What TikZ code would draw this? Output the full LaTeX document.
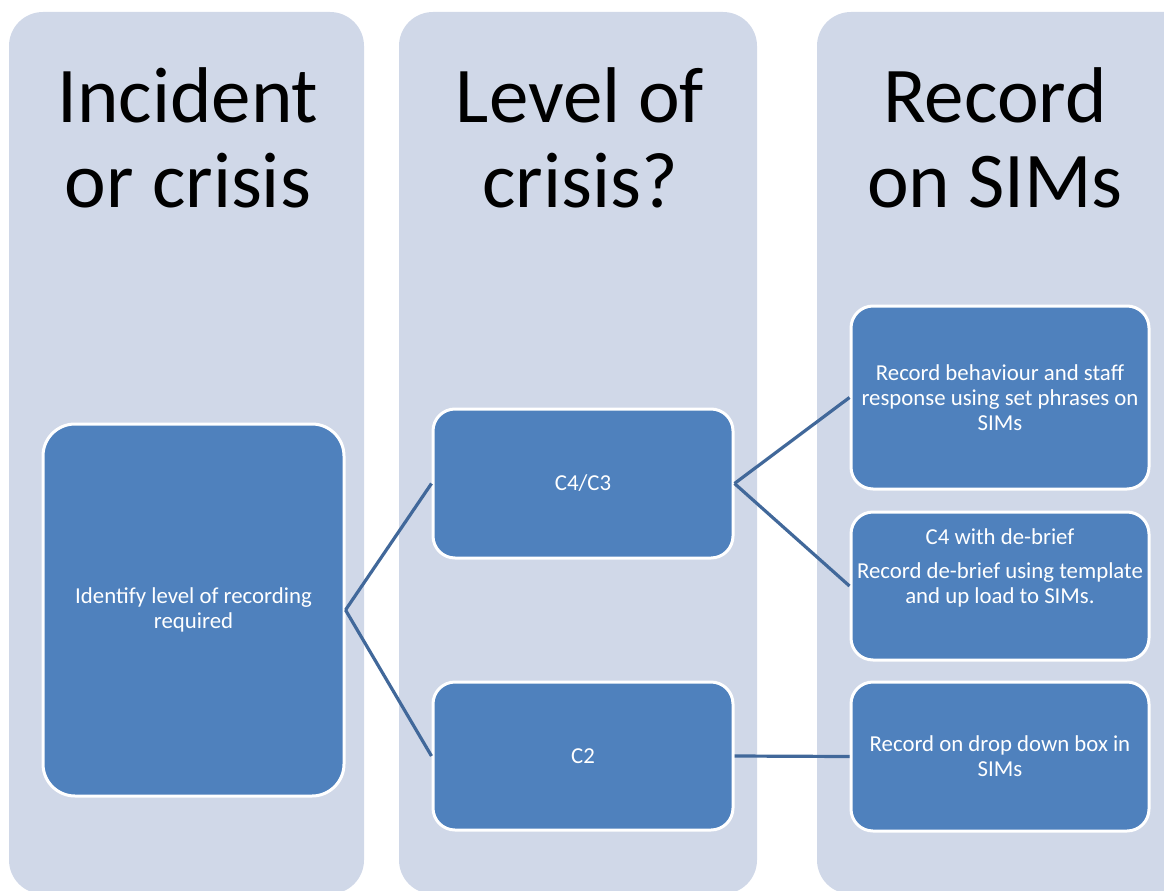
\documentclass[tikz,border=0pt]{standalone}
\usepackage{fontspec}
\setmainfont{Carlito}
\definecolor{colbg}{HTML}{D0D8E8}
\definecolor{boxfill}{HTML}{4F81BD}
\definecolor{linec}{HTML}{41689A}
\begin{document}
\begin{tikzpicture}[x=1pt,y=-1pt,
  column/.style={fill=colbg, rounded corners=34pt},
  title/.style={font=\fontsize{79}{85}\selectfont, align=center, text=black, inner sep=0pt},
  box/.style={draw=white, line width=3pt, fill=boxfill, rounded corners=22pt, inner sep=0pt},
  bigbox/.style={box, rounded corners=32pt},
  btext/.style={text=white, font=\fontsize{22.8}{25}\selectfont, align=center, inner sep=0pt},
  link/.style={draw=linec, line width=3.2pt}]
\useasboundingbox (0,0) rectangle (1164,891);
\begin{scope}
\clip (0,0) rectangle (1164,891);
\fill[column] (9,12) rectangle (364,894);
\fill[column] (399,12) rectangle (757,894);
\fill[column] (817,12) rectangle (1200,894);
\end{scope}
\node[title] (t1) at (188,138) {Incident\\or crisis};
\node[title] (t2) at (580,138) {Level of\\crisis?};
\node[title] (t3) at (995,138) {Record\\on SIMs};
\node[bigbox, btext, minimum width=301pt, minimum height=372pt] (a) at (193.5,610) {Identify level of recording\\required};
\node[box, btext, minimum width=300pt, minimum height=149pt] (c43) at (583,483.5) {C4/C3};
\node[box, btext, minimum width=300pt, minimum height=148pt] (c2) at (583,756) {C2};
\node[box, btext, minimum width=298pt, minimum height=183pt] (r1) at (1000,397.5) {Record behaviour and staff\\response using set phrases on\\SIMs};
\node[box, minimum width=298pt, minimum height=148pt] (r2) at (1000,586) {};
\node[btext, anchor=north] (r2t) at (1000,528.5) {C4 with de-brief\\[9pt]Record de-brief using template\\and up load to SIMs.};
\node[box, btext, minimum width=298pt, minimum height=149pt] (r3) at (1000,756.5) {Record on drop down box in\\SIMs};
\draw[link] (a.east) -- (c43.west);
\draw[link] (a.east) -- (c2.west);
\draw[link] (c43.east) -- (r1.west);
\draw[link] (c43.east) -- (r2.west);
\draw[link] (c2.east) -- (r3.west);
\end{tikzpicture}
\end{document}
